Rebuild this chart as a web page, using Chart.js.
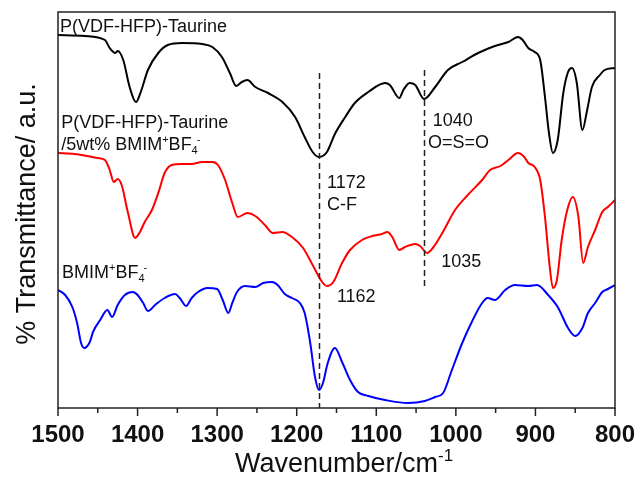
<!DOCTYPE html>
<html><head><meta charset="utf-8">
<script src="https://cdn.jsdelivr.net/npm/chart.js@4.4.1/dist/chart.umd.min.js"></script>
<style>html,body{margin:0;padding:0;background:#fff;overflow:hidden}</style>
</head><body>
<canvas id="c" width="637" height="477"></canvas>
<script>
// ---- data (wavenumber in cm^-1, transmittance in arbitrary units, offset stacked) ----
const wnTaurine = [1500,1466,1441,1435,1428,1425,1418,1410,1402,1396,1387,1374,1362,1344,1319,1306,1294,1284,1276,1269,1262,1252,1236,1218,1202,1190,1180,1172,1162,1152,1139,1127,1110,1089,1083,1071,1066,1058,1051,1040,1026,1010,992,972,951,934,922,916,909,901,894,888,883,878,872,865,859,854,848,841,835,829,819,813,800];
const tTaurine  = [373,372,368,360,355,357,348,321,306,316,338,355,363,365,364,361,351,335,322,326,328,321,315,306,291,271,256,251,256,274,291,305,316,325,323,310,318,325,323,309,321,338,346,355,362,366,371,368,360,356,348,311,275,255,268,315,336,340,325,278,298,321,333,338,340];

const wnComposite = [1500,1479,1457,1450,1441,1435,1430,1425,1420,1412,1403,1397,1391,1382,1374,1366,1357,1344,1332,1319,1306,1299,1290,1281,1274,1262,1252,1240,1230,1218,1206,1192,1180,1168,1162,1154,1143,1133,1118,1105,1093,1086,1080,1071,1064,1051,1045,1036,1029,1017,1001,985,967,957,944,934,922,914,909,901,894,888,882,878,873,867,860,853,846,840,834,825,816,809,800];
const tComposite  = [255,254,251,250,248,238,226,229,223,195,170,176,186,198,215,235,243,244,244,246,246,243,228,205,191,195,192,183,175,176,171,160,143,126,122,126,145,158,168,172,174,176,171,158,161,164,162,155,160,175,198,213,228,238,242,248,255,251,245,241,228,191,141,120,128,168,198,211,191,145,161,178,196,201,208];

const wnIonic = [1500,1491,1482,1476,1471,1467,1460,1456,1447,1438,1432,1425,1416,1406,1400,1393,1387,1378,1366,1353,1347,1339,1332,1324,1312,1300,1293,1286,1281,1275,1265,1252,1242,1231,1224,1215,1206,1196,1190,1183,1177,1172,1167,1161,1152,1143,1133,1123,1110,1089,1060,1039,1026,1016,1005,992,980,967,960,951,938,926,909,898,884,872,859,850,841,834,825,816,809,800];
const tIonic  = [118,113,101,85,65,60,66,76,88,98,91,103,113,116,113,105,97,103,110,114,110,102,110,116,120,119,108,95,105,116,122,121,125,126,123,114,110,105,95,65,31,18,25,45,60,46,28,16,12,8,5,7,11,15,38,65,86,105,110,108,118,123,122,123,113,101,80,72,80,95,105,116,119,123];

const xTickLabels = [1500,1400,1300,1200,1100,1000,900,800];
const xMinorTicks = [1450,1350,1250,1150,1050,950,850];

const markerWn     = [1172, 1040];
const markerTop    = [335, 338];
const markerBottom = [0, 118];

// ---- chart ----
const FONT = "'Liberation Sans', Arial, sans-serif";

function drawRich(ctx, segs, x, y, size, color){
  let cx = x;
  ctx.fillStyle = color;
  ctx.textBaseline = 'alphabetic';
  ctx.textAlign = 'left';
  segs.forEach(s => {
    const t = s[0], k = s[1] || '', back = s[2] || 0;
    if (k === 'sup' || k === 'sub') {
      const fs = Math.round(size*0.62);
      ctx.font = fs + 'px ' + FONT;
      const dy = k === 'sup' ? -size*0.40 : size*0.22;
      const px = cx - back;
      ctx.fillText(t, px, y + dy);
      cx = px + ctx.measureText(t).width;
    } else {
      ctx.font = size + 'px ' + FONT;
      ctx.fillText(t, cx, y);
      cx += ctx.measureText(t).width;
    }
  });
}

const labels = [
  {segs:[['P(VDF-HFP)-Taurine']], wn:1497.5, t:376, size:18},
  {segs:[['P(VDF-HFP)-Taurine']], wn:1496, t:280, size:18},
  {segs:[['/5wt% BMIM'],['+','sup'],['BF'],['4','sub'],['-','sup',1]], wn:1496, t:258, size:18},
  {segs:[['BMIM'],['+','sup'],['BF'],['4','sub'],['-','sup',1]], wn:1495, t:130, size:18},
  {segs:[['1172']], wn:1162, t:220, size:18},
  {segs:[['C-F']], wn:1162, t:198, size:18},
  {segs:[['1040']], wn:1029, t:282, size:18},
  {segs:[['O=S=O']], wn:1035, t:260, size:18},
  {segs:[['1162']], wn:1149.5, t:106, size:18},
  {segs:[['1035']], wn:1018.5, t:141, size:18}
];

const decor = {
  id:'decor',
  beforeDraw(chart){
    const ctx = chart.ctx;
    ctx.save(); ctx.fillStyle='#fff'; ctx.fillRect(0,0,chart.width,chart.height); ctx.restore();
  },
  afterDatasetsDraw(chart){
    const {ctx, chartArea:a, scales:{x, y}} = chart;
    ctx.save();
    // dashed marker lines
    ctx.strokeStyle = '#222'; ctx.lineWidth = 1.5; ctx.setLineDash([6,4]);
    markerWn.forEach((w,i) => {
      const px = Math.round(x.getPixelForValue(w)) + 0.5;
      ctx.beginPath();
      ctx.moveTo(px, y.getPixelForValue(markerTop[i]));
      ctx.lineTo(px, y.getPixelForValue(markerBottom[i]));
      ctx.stroke();
    });
    ctx.setLineDash([]);
    // frame
    ctx.strokeStyle = '#222'; ctx.lineWidth = 1.5;
    ctx.strokeRect(a.left, a.top, a.right - a.left, a.bottom - a.top);
    // ticks
    ctx.beginPath();
    xTickLabels.forEach(v => { const px = x.getPixelForValue(v); ctx.moveTo(px, a.bottom); ctx.lineTo(px, a.bottom + 8); });
    xMinorTicks.forEach(v => { const px = x.getPixelForValue(v); ctx.moveTo(px, a.bottom); ctx.lineTo(px, a.bottom + 5); });
    ctx.stroke();
    // text labels
    labels.forEach(l => drawRich(ctx, l.segs, x.getPixelForValue(l.wn), y.getPixelForValue(l.t), l.size, '#111'));
    // x title
    drawRich(ctx, [['Wavenumber/cm'],['-1','sup']], 235, 472, 27, '#111');
    // y title
    ctx.translate(35, 214);
    ctx.rotate(-Math.PI/2);
    ctx.font = '27px ' + FONT; ctx.textAlign='center'; ctx.textBaseline='alphabetic'; ctx.fillStyle='#111';
    ctx.fillText('% Transmittance/ a.u.', 0, 0);
    ctx.restore();
  }
};

function series(w, t){ return w.map((v,i) => ({x:v, y:t[i]})); }

new Chart(document.getElementById('c'), {
  type:'line',
  data:{ datasets:[
    {label:'P(VDF-HFP)-Taurine', data:series(wnTaurine,tTaurine), borderColor:'#000', borderWidth:2, pointRadius:0, cubicInterpolationMode:'monotone', fill:false},
    {label:'P(VDF-HFP)-Taurine/5wt% BMIM+BF4-', data:series(wnComposite,tComposite), borderColor:'#ff0000', borderWidth:2, pointRadius:0, cubicInterpolationMode:'monotone', fill:false},
    {label:'BMIM+BF4-', data:series(wnIonic,tIonic), borderColor:'#0000ff', borderWidth:2, pointRadius:0, cubicInterpolationMode:'monotone', fill:false}
  ]},
  options:{
    responsive:false, animation:false, devicePixelRatio:1,
    layout:{padding:{left:58, right:22, top:12, bottom:0}},
    plugins:{legend:{display:false}, tooltip:{enabled:false}},
    scales:{
      x:{type:'linear', reverse:true, min:800, max:1500,
         grid:{display:false}, border:{display:false},
         afterFit(s){ s.height = 69; s.paddingLeft = 0; s.paddingRight = 0; },
         afterBuildTicks(s){ s.ticks = xTickLabels.map(v => ({value:v})); },
         ticks:{autoSkip:false, maxRotation:0, padding:5, color:'#111',
                callback:(v) => String(v),
                font:{family:FONT, size:24, weight:'bold'}}},
      y:{display:false, min:0, max:396}
    }
  },
  plugins:[decor]
});
</script>
</body></html>
